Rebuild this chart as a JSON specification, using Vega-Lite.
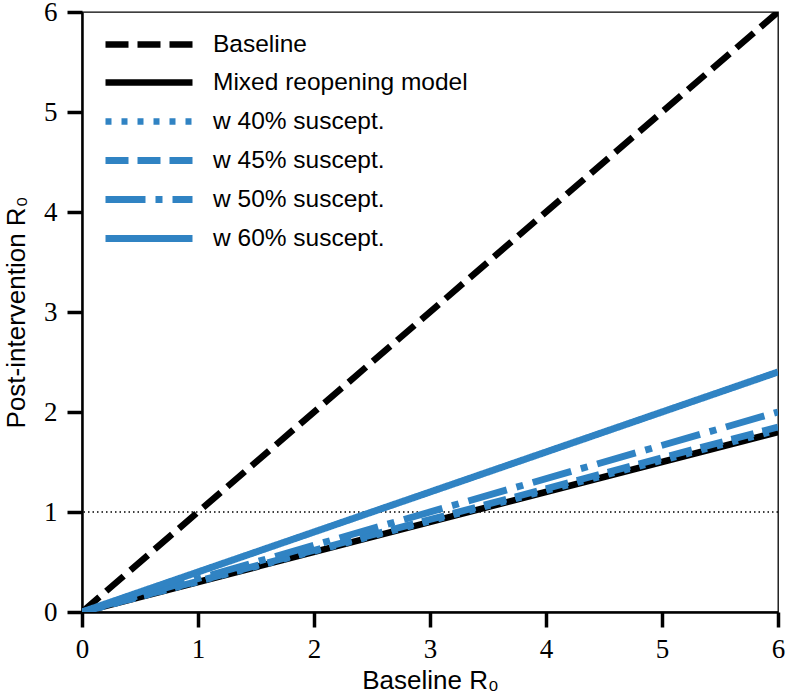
{
  "$schema": "https://vega.github.io/schema/vega-lite/v6.json",
  "width": 696,
  "height": 600,
  "autosize": "none",
  "padding": {"left": 82, "top": 12, "right": 9, "bottom": 86},
  "background": "white",
  "config": {
    "view": {"stroke": "black", "strokeWidth": 1.3},
    "axis": {
      "grid": false,
      "domainColor": "black",
      "domainWidth": 2.5,
      "tickColor": "black",
      "tickWidth": 3.5,
      "tickSize": 15,
      "labelFont": "Liberation Serif",
      "labelFontSize": 27,
      "labelColor": "black",
      "labelFlush": false,
      "labelOverlap": false,
      "format": "d",
      "titleFont": "Liberation Sans",
      "titleFontSize": 26,
      "titleFontWeight": "normal",
      "titleColor": "black"
    }
  },
  "datasets": {
    "lines": [
      {"series": "Baseline", "x": 0, "y": 0},
      {"series": "Baseline", "x": 6, "y": 6},
      {"series": "Mixed reopening model", "x": 0, "y": 0},
      {"series": "Mixed reopening model", "x": 6, "y": 1.8},
      {"series": "w 40% suscept.", "x": 0, "y": 0},
      {"series": "w 40% suscept.", "x": 6, "y": 1.82},
      {"series": "w 45% suscept.", "x": 0, "y": 0},
      {"series": "w 45% suscept.", "x": 6, "y": 1.85},
      {"series": "w 50% suscept.", "x": 0, "y": 0},
      {"series": "w 50% suscept.", "x": 6, "y": 2.0},
      {"series": "w 60% suscept.", "x": 0, "y": 0},
      {"series": "w 60% suscept.", "x": 6, "y": 2.4}
    ],
    "threshold": [{"y": 1}]
  },
  "layer": [
    {
      "data": {"name": "threshold"},
      "mark": {"type": "rule", "color": "black", "strokeWidth": 1.5, "strokeDash": [1.5, 3]},
      "encoding": {
        "y": {"field": "y", "type": "quantitative", "scale": {"domain": [0, 6]}}
      }
    },
    {
      "data": {"name": "lines"},
      "mark": {"type": "line", "clip": true, "strokeCap": "butt"},
      "encoding": {
        "x": {
          "field": "x", "type": "quantitative",
          "scale": {"domain": [0, 6], "nice": false, "zero": false},
          "axis": {"values": [0, 1, 2, 3, 4, 5, 6], "format": "d", "title": "Baseline R₀", "labelPadding": 9, "titleY": 76, "titleBaseline": "alphabetic"}
        },
        "y": {
          "field": "y", "type": "quantitative",
          "scale": {"domain": [0, 6], "nice": false, "zero": false},
          "axis": {"values": [0, 1, 2, 3, 4, 5, 6], "format": "d", "title": "Post-intervention R₀", "labelPadding": 10, "titleX": -58, "titleY": 300, "titleBaseline": "alphabetic"}
        },
        "detail": {"field": "series"},
        "order": {"field": "x", "type": "quantitative"},
        "color": {
          "field": "series", "type": "nominal",
          "scale": {
            "domain": ["Baseline", "Mixed reopening model", "w 40% suscept.", "w 45% suscept.", "w 50% suscept.", "w 60% suscept."],
            "range": ["black", "black", "#3083c3", "#3083c3", "#3083c3", "#3083c3"]
          },
          "legend": {
            "title": null,
            "orient": "none",
            "legendX": 49,
            "legendY": 14.5,
            "padding": 0,
            "symbolType": "M-3,0H3",
            "symbolSize": 841,
            "symbolStrokeWidth": 6,
            "symbolFillColor": "transparent",
            "rowPadding": 7,
            "labelOffset": 46,
            "labelFont": "Liberation Sans",
            "labelFontSize": 24.5,
            "labelColor": "black",
            "labelLimit": 400,
            "encode": {
              "symbols": {"update": {"strokeWidth": {"signal": "datum.value === 'Mixed reopening model' ? 8.5 : 6"}, "fill": {"value": "transparent"}}}
            }
          }
        },
        "strokeDash": {
          "field": "series", "type": "nominal",
          "scale": {
            "domain": ["Baseline", "Mixed reopening model", "w 40% suscept.", "w 45% suscept.", "w 50% suscept.", "w 60% suscept."],
            "range": [[23, 9], [1, 0], [6, 10], [23, 9], [40, 10, 7, 10], [1, 0]]
          },
          "legend": {
            "title": null,
            "orient": "none",
            "legendX": 49,
            "legendY": 14.5,
            "padding": 0,
            "symbolType": "M-3,0H3",
            "symbolSize": 841,
            "symbolStrokeWidth": 6,
            "symbolFillColor": "transparent",
            "rowPadding": 7,
            "labelOffset": 46,
            "labelFont": "Liberation Sans",
            "labelFontSize": 24.5,
            "labelColor": "black",
            "labelLimit": 400,
            "encode": {
              "symbols": {"update": {"strokeWidth": {"signal": "datum.value === 'Mixed reopening model' ? 8.5 : 6"}, "fill": {"value": "transparent"}}}
            }
          }
        },
        "strokeWidth": {
          "field": "series", "type": "nominal",
          "scale": {
            "domain": ["Baseline", "Mixed reopening model", "w 40% suscept.", "w 45% suscept.", "w 50% suscept.", "w 60% suscept."],
            "range": [6.5, 7, 6, 6, 6, 6]
          },
          "legend": null
        }
      }
    }
  ]
}
